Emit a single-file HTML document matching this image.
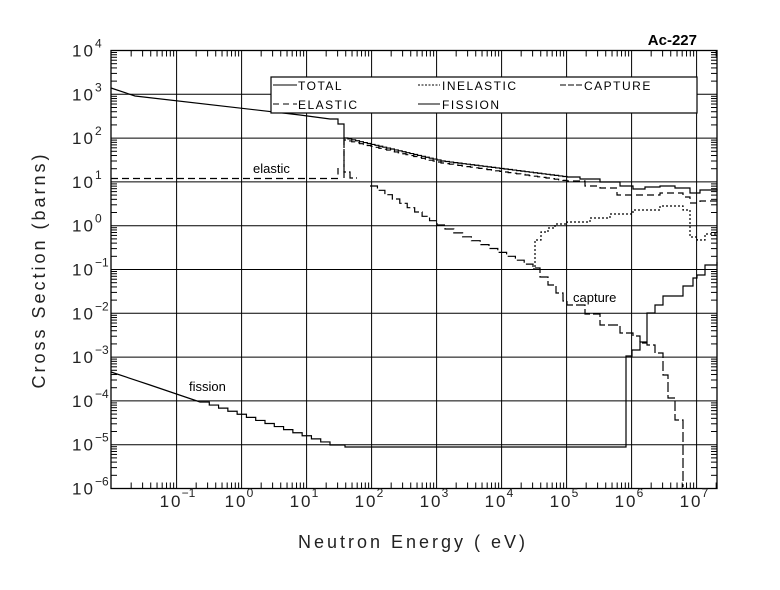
<!DOCTYPE html>
<html><head><meta charset="utf-8"><style>
html,body{margin:0;padding:0;background:#fff;}
svg{display:block;font-family:"Liberation Sans",sans-serif;}
</style></head><body>
<svg id="s" width="780" height="590" viewBox="0 0 780 590" xmlns="http://www.w3.org/2000/svg">
<rect width="780" height="590" fill="#fff"/>
<g id="grid" stroke="#000" stroke-width="1" fill="none"></g>
<g id="curves" fill="none" stroke="#000" stroke-width="1.2"></g>
<g id="labels" font-size="17" fill="#222"></g>
<rect x="271" y="77" width="426" height="36" fill="#fff" stroke="#000" stroke-width="1.2"/>
<g font-size="12" letter-spacing="1.5" fill="#000">
<line x1="273" y1="85" x2="297" y2="85" stroke="#000"/><text x="298" y="90">TOTAL</text>
<line x1="418" y1="85" x2="440" y2="85" stroke="#000" stroke-dasharray="2,1.5"/><text x="442" y="90">INELASTIC</text>
<line x1="560" y1="85" x2="583" y2="85" stroke="#000" stroke-dasharray="6,2"/><text x="584" y="90">CAPTURE</text>
<line x1="273" y1="104" x2="297" y2="104" stroke="#000" stroke-dasharray="6,4"/><text x="298" y="109">ELASTIC</text>
<line x1="418" y1="104" x2="440" y2="104" stroke="#000"/><text x="442" y="109">FISSION</text>
</g>
<text x="697" y="45" font-size="15" font-weight="bold" text-anchor="end">Ac-227</text>
<text x="253" y="173" font-size="13">elastic</text>
<text x="573" y="302" font-size="13">capture</text>
<text x="189" y="391" font-size="13">fission</text>
<text x="413" y="548" font-size="18" text-anchor="middle" letter-spacing="3" fill="#222">Neutron Energy ( eV)</text>
<text transform="translate(45,270) rotate(-90)" font-size="18" text-anchor="middle" letter-spacing="3" fill="#222">Cross Section (barns)</text>
</svg>
<script>
var NS="http://www.w3.org/2000/svg";
function el(p,t,a){var e=document.createElementNS(NS,t);for(var k in a)e.setAttribute(k,a[k]);p.appendChild(e);return e;}
var L=111,R=717,T=50.5,B=488.5;
function X(l){return 241.6+65*l;}function Y(l){return 225.7-43.8*l;}
var g=document.getElementById('grid');
el(g,'rect',{x:L,y:T,width:R-L,height:B-T,'stroke-width':1.3});
for(var d=-1;d<=7;d++){var x=X(d);el(g,'line',{x1:x,y1:T,x2:x,y2:B});}
for(var d=-5;d<=3;d++){var y=Y(d);el(g,'line',{x1:L,y1:y,x2:R,y2:y});}
for(var d=-2;d<=7;d++)for(var m=2;m<=9;m++){var x=X(d+Math.log10(m));if(x>L&&x<R){el(g,'line',{x1:x,y1:B,x2:x,y2:B-6});el(g,'line',{x1:x,y1:T,x2:x,y2:T+6});}}
for(var d=-6;d<=3;d++)for(var m=2;m<=9;m++){var y=Y(d+Math.log10(m));el(g,'line',{x1:L,y1:y,x2:L+6,y2:y});el(g,'line',{x1:R,y1:y,x2:R-6,y2:y});}
var lb=document.getElementById('labels');
for(var d=-6;d<=4;d++){var y=Y(d);var t=el(lb,'text',{x:72,y:y+6,'letter-spacing':'2'});t.textContent='10';var s=el(lb,'text',{x:95,y:y-3,'font-size':'12'});s.textContent=(d<0?'\u2212'+(-d):d);}
for(var d=-1;d<=7;d++){var x=X(d);var t=el(lb,'text',{x:x-17,y:507,'letter-spacing':'2'});t.textContent='10';var s=el(lb,'text',{x:x+5,y:497,'font-size':'12'});s.textContent=(d<0?'\u2212'+(-d):d);}
var c=document.getElementById('curves');
function step(pts){var s='M'+pts[0][0]+','+pts[0][1];for(var i=1;i<pts.length;i++){s+=' H'+pts[i][0]+' V'+pts[i][1];}return s;}
function line(pts){return 'M'+pts.map(function(p){return p[0]+','+p[1];}).join(' L');}
function stair(x0,y0,x1,y1,n){var a=[];for(var i=0;i<=n;i++)a.push([x0+(x1-x0)*i/n,y0+(y1-y0)*i/n]);return a;}
// total
el(c,'path',{d:line([[111,88],[135,96],[300,115],[330,119]])+' '+step([[330,119],[338,124],[344,138]]).replace('M','L')+' '+step(stair(344,138,437,160,24).concat(stair(441,161,567,177,30)).concat([[580,179],[600,182],[620,186],[633,189],[645,187],[660,186],[675,188],[690,193],[700,190],[717,189]])).replace('M','L')});
// elastic
el(c,'path',{d:'M111,178.5 H338 V168 M344,178 V140 '+step(stair(344,140,437,162,24).concat(stair(441,163,567,181,30)).concat([[585,186],[600,188],[617,195],[630,195],[660,193],[683,197],[690,203],[700,201],[717,200]])).replace('M','L'),'stroke-dasharray':'7,4'});
// capture
el(c,'path',{d:'M344,138 V172 H350 V178 H357 M370,186 '+step(stair(370,186,437,225,9).concat(stair(445,229,533,268,10)).concat([[540,277],[548,285],[556,293],[563,301],[567,305],[585,314],[600,325],[620,333],[633,336],[640,343],[647,345],[655,353],[663,375],[668,398],[675,420],[683,432],[683,487]])).replace('M','L'),'stroke-dasharray':'10,3'});
// inelastic
el(c,'path',{d:step([[533,269],[535,240],[541,232],[548,228],[555,224],[567,222],[590,218],[610,214],[633,210],[660,206],[682,206],[683,210],[690,237],[697,240],[705,234],[717,230]]),'stroke-dasharray':'2,2'});
// fission
el(c,'path',{d:line([[111,372],[150,385],[200,402]])+' '+step(stair(200,402,330,445,14).concat([[345,447],[626,447],[626,356],[632,350],[640,342],[647,313],[655,305],[663,296],[683,286],[693,278],[697,275],[705,265],[717,262]])).replace('M','L')});
</script>
</body></html>
